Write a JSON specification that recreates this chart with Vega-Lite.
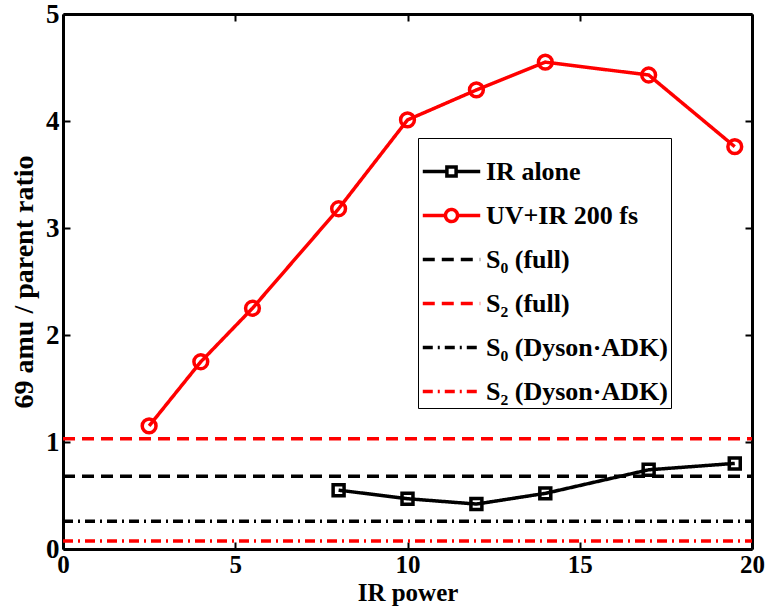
{
  "$schema": "https://vega.github.io/schema/vega-lite/v6.json",
  "width": 689,
  "height": 535,
  "autosize": {"type": "none"},
  "padding": {"left": 63, "top": 14, "right": 15, "bottom": 67},
  "background": "white",
  "config": {
    "view": {"stroke": null},
    "font": "Liberation Serif",
    "axis": {
      "labelFont": "Liberation Serif",
      "labelFontWeight": "bold",
      "labelFontSize": 27,
      "labelColor": "black",
      "titleFont": "Liberation Serif",
      "titleFontWeight": "bold",
      "titleFontSize": 28,
      "titleColor": "black",
      "domainColor": "black",
      "domainWidth": 3,
      "tickColor": "black",
      "tickWidth": 2,
      "tickSize": -7,
      "grid": false,
      "labelFlush": false
    }
  },
  "data": {
    "values": [
      {"series": "IR alone", "x": 8, "y": 0.55},
      {"series": "IR alone", "x": 10, "y": 0.47},
      {"series": "IR alone", "x": 12, "y": 0.42},
      {"series": "IR alone", "x": 14, "y": 0.52},
      {"series": "IR alone", "x": 17, "y": 0.74},
      {"series": "IR alone", "x": 19.5, "y": 0.8},
      {"series": "UV+IR 200 fs", "x": 2.5, "y": 1.15},
      {"series": "UV+IR 200 fs", "x": 4, "y": 1.75},
      {"series": "UV+IR 200 fs", "x": 5.5, "y": 2.25},
      {"series": "UV+IR 200 fs", "x": 8, "y": 3.18},
      {"series": "UV+IR 200 fs", "x": 10, "y": 4.01},
      {"series": "UV+IR 200 fs", "x": 12, "y": 4.29},
      {"series": "UV+IR 200 fs", "x": 14, "y": 4.55},
      {"series": "UV+IR 200 fs", "x": 17, "y": 4.43},
      {"series": "UV+IR 200 fs", "x": 19.5, "y": 3.76},
      {"series": "S₀ (full)", "x": 0, "y": 0.68},
      {"series": "S₀ (full)", "x": 20, "y": 0.68},
      {"series": "S₂ (full)", "x": 0, "y": 1.03},
      {"series": "S₂ (full)", "x": 20, "y": 1.03},
      {"series": "S₀ (Dyson·ADK)", "x": 0, "y": 0.26},
      {"series": "S₀ (Dyson·ADK)", "x": 20, "y": 0.26},
      {"series": "S₂ (Dyson·ADK)", "x": 0, "y": 0.075},
      {"series": "S₂ (Dyson·ADK)", "x": 20, "y": 0.075}
    ]
  },
  "layer": [
    {
      "mark": {"type": "line", "clip": true},
      "encoding": {
        "x": {"field": "x", "type": "quantitative", "scale": {"domain": [0, 20], "nice": false},
              "axis": {"orient": "bottom", "values": [0, 5, 10, 15, 20], "title": "IR power", "labelFontSize": 25, "titleFontSize": 25, "labelPadding": 10, "labelBaseline": "top", "titlePadding": 3}},
        "y": {"field": "y", "type": "quantitative", "scale": {"domain": [0, 5], "nice": false},
              "axis": {"orient": "left", "values": [0, 1, 2, 3, 4, 5], "title": "69 amu / parent ratio", "labelPadding": 11, "labelBaseline": "middle", "titlePadding": 7}},
        "color": {
          "field": "series", "type": "nominal",
          "scale": {"domain": ["IR alone", "UV+IR 200 fs", "S₀ (full)", "S₂ (full)", "S₀ (Dyson·ADK)", "S₂ (Dyson·ADK)"],
                    "range": ["#000000", "#ff0000", "#000000", "#ff0000", "#000000", "#ff0000"]},
          "legend": {
            "title": null, "orient": "none", "legendX": 355, "legendY": 124,
            "strokeColor": "black", "fillColor": "white", "padding": 3,
            "labelFont": "Liberation Serif", "labelFontWeight": "bold", "labelFontSize": 26, "labelColor": "black",
            "labelLimit": 400, "labelOffset": 4, "symbolSize": 3300, "rowPadding": -4, "symbolStrokeWidth": 3,
            "encode": {
              "symbols": {"update": {
                "shape": {"signal": "datum.value === 'IR alone' ? 'M-1,0H-0.16M0.16,0H1M-0.16,-0.16H0.16V0.16H-0.16Z' : datum.value === 'UV+IR 200 fs' ? 'M-1,0H-0.21M0.21,0H1M-0.21,0A0.21,0.21,0,1,1,0.21,0A0.21,0.21,0,1,1,-0.21,0Z' : 'stroke'"},
                "strokeWidth": {"signal": "indexof(datum.value, 'Dyson') >= 0 ? 1.5 : 3.5"},
                "fill": {"value": "transparent"}
              }}
            }
          }
        },
        "strokeDash": {
          "field": "series", "type": "nominal",
          "scale": {"domain": ["IR alone", "UV+IR 200 fs", "S₀ (full)", "S₂ (full)", "S₀ (Dyson·ADK)", "S₂ (Dyson·ADK)"],
                    "range": [[1, 0], [1, 0], [12, 7], [12, 7], [10, 5, 2, 5], [10, 5, 2, 5]]}
        },
        "strokeWidth": {
          "field": "series", "type": "nominal", "legend": null,
          "scale": {"domain": ["IR alone", "UV+IR 200 fs", "S₀ (full)", "S₂ (full)", "S₀ (Dyson·ADK)", "S₂ (Dyson·ADK)"],
                    "range": [3.5, 3.5, 3.5, 3.5, 1.5, 1.5]}
        }
      }
    },
    {
      "transform": [{"filter": "datum.series === 'IR alone' || datum.series === 'UV+IR 200 fs'"}],
      "mark": {"type": "point", "filled": false, "strokeWidth": 3.5, "opacity": 1},
      "encoding": {
        "x": {"field": "x", "type": "quantitative", "axis": {"orient": "top", "values": [0, 5, 10, 15, 20], "labels": false, "title": null}},
        "y": {"field": "y", "type": "quantitative", "axis": {"orient": "right", "values": [0, 1, 2, 3, 4, 5], "labels": false, "title": null}},
        "color": {"field": "series", "type": "nominal", "legend": null},
        "shape": {"field": "series", "type": "nominal", "legend": null,
                  "scale": {"domain": ["IR alone", "UV+IR 200 fs"], "range": ["square", "circle"]}},
        "size": {"field": "series", "type": "nominal", "legend": null,
                 "scale": {"domain": ["IR alone", "UV+IR 200 fs"], "range": [120, 190]}}
      }
    }
  ],
  "resolve": {"axis": {"x": "independent", "y": "independent"}}
}
